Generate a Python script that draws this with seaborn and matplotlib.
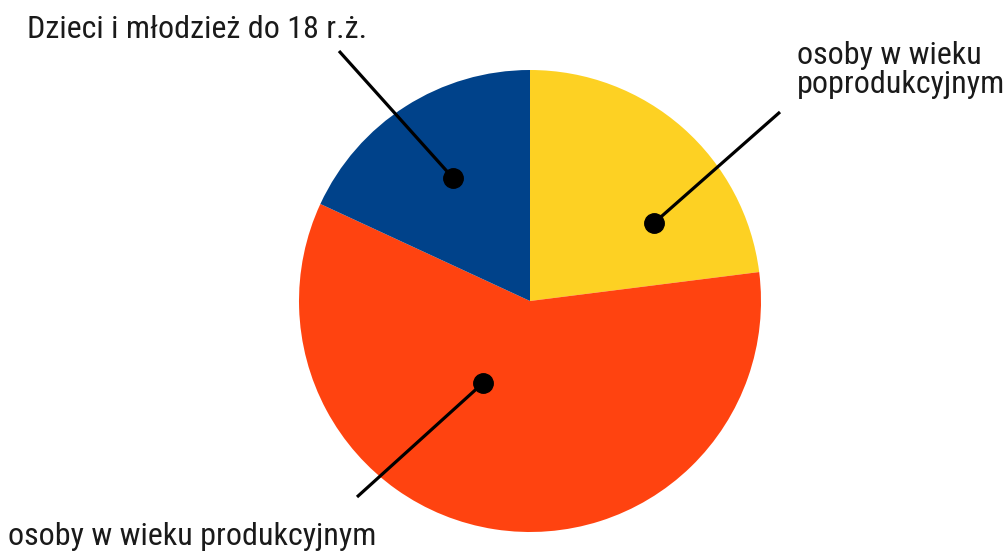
import seaborn as sns
import matplotlib.pyplot as plt
from matplotlib import font_manager

# data (share of population, %)
labels = ["osoby w wieku\npoprodukcyjnym", "osoby w wieku produkcyjnym", "Dzieci i młodzież do 18 r.ż."]
shares = [23.0, 58.9, 18.1]
colors = ["#FDD123", "#FF4310", "#00428A"]

sns.set_style("white")
names = {f.name for f in font_manager.fontManager.ttflist}
fam = "Roboto Condensed" if "Roboto Condensed" in names else "Roboto"
plt.rcParams['font.family'] = [fam, 'DejaVu Sans']

fig = plt.figure(figsize=(10.05, 5.56), dpi=100)
ax = fig.add_axes([0, 0, 1, 1])

ax.pie(shares, colors=colors, startangle=90, counterclock=False,
       center=(530, 255), radius=231, frame=True,
       wedgeprops=dict(linewidth=0))
ax.set_xlim(0, 1005)
ax.set_ylim(0, 556)
ax.set_aspect('equal')
ax.axis('off')

# leader lines: (dot, line end, text pos)
leaders = [
    ((654, 333), (780, 444), (797, 463)),
    ((483, 173), (357, 59), (8, 11)),
    ((453, 378), (339, 505), (27, 518)),
]
fs = 23 if fam == "Roboto Condensed" else 19.5
for lab, (dot, end, tpos) in zip(labels, leaders):
    ax.plot([dot[0], end[0]], [dot[1], end[1]], color='black', lw=2.3, solid_capstyle='butt')
    ax.plot(dot[0], dot[1], 'o', color='black', ms=14)
    ax.text(tpos[0], tpos[1], lab, ha='left', va='baseline', fontsize=fs,
            color='#1a1a1a', linespacing=1.0)

fig.savefig("out.png", dpi=100)
